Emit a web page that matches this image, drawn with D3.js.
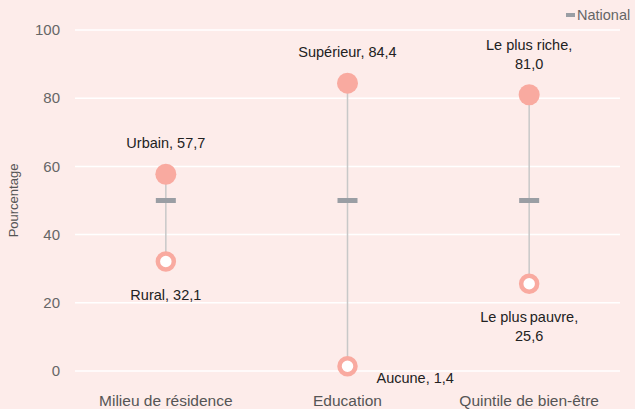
<!DOCTYPE html>
<html>
<head>
<meta charset="utf-8">
<script src="https://cdn.jsdelivr.net/npm/d3@7"></script>
<style>
  body { margin: 0; background: #fdecea; }
  svg { display: block; font-family: "Liberation Sans", Arial, sans-serif; }
</style>
</head>
<body>
<div id="chart"></div>
<script>
// Data
const categories = ["Milieu de résidence", "Education", "Quintile de bien-être"];
const highLabels = [["Urbain, 57,7"], ["Supérieur, 84,4"], ["Le plus riche,", "81,0"]];
const highValues = [57.7, 84.4, 81.0];
const lowLabels = [["Rural, 32,1"], ["Aucune, 1,4"], ["Le plus\u2009pauvre,", "25,6"]];
const lowValues = [32.1, 1.4, 25.6];
const nationalValues = [50, 50, 50];
const yTicks = [0, 20, 40, 60, 80, 100];

const width = 635, height = 409;
const margin = { top: 30, right: 15, bottom: 38, left: 75 };
const dotColor = "#f9aaa0";

const svg = d3.select("#chart").append("svg")
  .attr("width", width)
  .attr("height", height);

svg.append("rect").attr("width", width).attr("height", height).attr("fill", "#fdecea");

const x = d3.scaleBand()
  .domain(categories)
  .range([margin.left, width - margin.right]);

const y = d3.scaleLinear()
  .domain([0, 100])
  .range([height - margin.bottom, margin.top]);

// gridlines
svg.append("g")
  .selectAll("line")
  .data(yTicks)
  .join("line")
  .attr("x1", margin.left)
  .attr("x2", width - margin.right)
  .attr("y1", d => y(d))
  .attr("y2", d => y(d))
  .attr("stroke", "#fff")
  .attr("stroke-width", 1.5);

// y tick labels
svg.append("g")
  .selectAll("text")
  .data(yTicks)
  .join("text")
  .attr("x", 60)
  .attr("y", d => y(d))
  .attr("dy", "0.35em")
  .attr("text-anchor", "end")
  .attr("font-size", 15)
  .attr("fill", "#666")
  .text(d => d);

svg.append("text")
  .attr("transform", `translate(18,${y(50)}) rotate(-90)`)
  .attr("text-anchor", "middle")
  .attr("font-size", 13)
  .attr("fill", "#555")
  .text("Pourcentage");

// x labels
svg.append("g")
  .selectAll("text")
  .data(categories)
  .join("text")
  .attr("x", d => x(d) + x.bandwidth() / 2)
  .attr("y", 406)
  .attr("text-anchor", "middle")
  .attr("font-size", 15.5)
  .attr("fill", "#555")
  .text(d => d);

const cx = i => x(categories[i]) + x.bandwidth() / 2;

const g = svg.append("g");
categories.forEach((c, i) => {
  g.append("line")
    .attr("x1", cx(i)).attr("x2", cx(i))
    .attr("y1", y(highValues[i])).attr("y2", y(lowValues[i]))
    .attr("stroke", "#c8c8c8")
    .attr("stroke-width", 1.5);

  g.append("rect")
    .attr("x", cx(i) - 10)
    .attr("y", y(nationalValues[i]) - 2.5)
    .attr("width", 20)
    .attr("height", 5)
    .attr("fill", "#9a9ea4");

  g.append("circle")
    .attr("cx", cx(i)).attr("cy", y(highValues[i]))
    .attr("r", 10.5)
    .attr("fill", dotColor);

  g.append("circle")
    .attr("cx", cx(i)).attr("cy", y(lowValues[i]))
    .attr("r", 8)
    .attr("fill", "#fff")
    .attr("stroke", dotColor)
    .attr("stroke-width", 4.5);

  // high label
  const hl = highLabels[i];
  hl.forEach((line, k) => {
    g.append("text")
      .attr("x", cx(i))
      .attr("y", y(highValues[i]) - 26 - (hl.length - 1 - k) * 19)
      .attr("text-anchor", "middle")
      .attr("font-size", 14.5)
      .attr("fill", "#222")
      .text(line);
  });

  // low label
  const ll = lowLabels[i];
  if (i === 1) {
    g.append("text")
      .attr("x", cx(i) + 29)
      .attr("y", y(lowValues[i]) + 17)
      .attr("font-size", 14.5)
      .attr("fill", "#222")
      .text(ll[0]);
  } else {
    ll.forEach((line, k) => {
      g.append("text")
        .attr("x", cx(i))
        .attr("y", y(lowValues[i]) + 38 + k * 19)
        .attr("text-anchor", "middle")
        .attr("font-size", 14.5)
        .attr("fill", "#222")
        .text(line);
    });
  }
});

// legend
const lg = svg.append("g");
lg.append("rect").attr("x", 566).attr("y", 13).attr("width", 9).attr("height", 4).attr("fill", "#9a9ea4");
lg.append("text").attr("x", 577).attr("y", 15).attr("dy", "0.35em")
  .attr("font-size", 14.5).attr("fill", "#666").text("National");
</script>
</body>
</html>
